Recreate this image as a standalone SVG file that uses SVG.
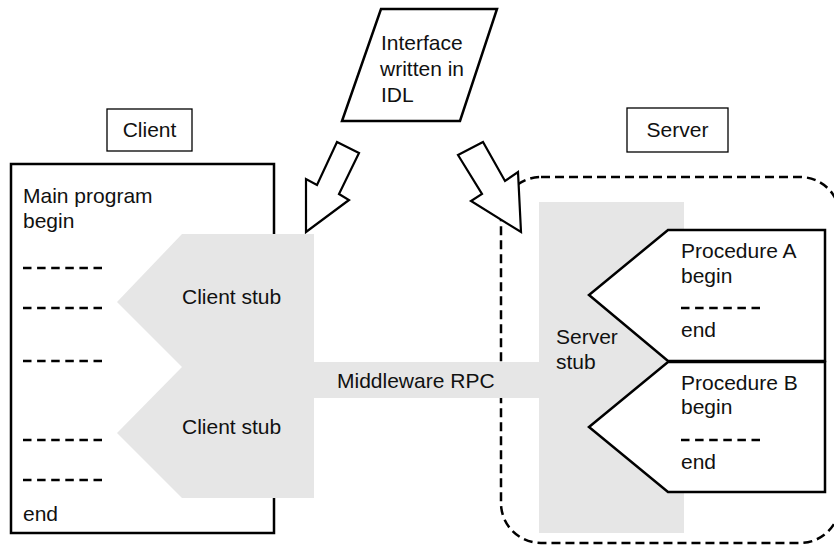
<svg xmlns="http://www.w3.org/2000/svg" width="834" height="547" viewBox="0 0 834 547">
  <style>
    text { font-family: "Liberation Sans", Arial, Helvetica, sans-serif; font-size: 21px; fill: #111; }
    .box { fill: #fff; stroke: #000; stroke-width: 2.5; }
    .label { fill: #fff; stroke: #000; stroke-width: 1.3; }
    .stub { fill: #e6e6e6; stroke: none; }
    .dots { stroke: #000; stroke-width: 2.6; stroke-dasharray: 8.5 5.6; fill: none; }
    .arrow { fill: #fff; stroke: #000; stroke-width: 2.2; stroke-linejoin: miter; }
  </style>
  <rect width="834" height="547" fill="#fff"/>

  <!-- Server boundary -->
  <g id="server-boundary">
    <rect x="501" y="177" width="339" height="366" rx="40" ry="40" fill="none" stroke="#000" stroke-width="2.5" stroke-dasharray="9 5"/>
  </g>

  <!-- Client main program -->
  <g id="main-program">
    <rect class="box" x="11" y="164" width="263" height="369"/>
    <text x="23" y="203">Main program</text>
    <text x="23" y="228">begin</text>
    <line class="dots" x1="23" y1="268" x2="102" y2="268"/>
    <line class="dots" x1="23" y1="308" x2="102" y2="308"/>
    <line class="dots" x1="23" y1="361" x2="102" y2="361"/>
    <line class="dots" x1="23" y1="440" x2="102" y2="440"/>
    <line class="dots" x1="23" y1="480" x2="102" y2="480"/>
    <text x="23" y="521">end</text>
  </g>

  <!-- Middleware band -->
  <g id="middleware">
    <rect class="stub" x="300" y="362" width="240" height="36"/>
    <text x="337" y="388">Middleware RPC</text>
  </g>

  <!-- Client stubs -->
  <g id="client-stub-1">
    <polygon class="stub" points="182,234 314,234 314,367 182,367 117,302"/>
    <text x="182" y="304">Client stub</text>
  </g>
  <g id="client-stub-2">
    <polygon class="stub" points="182,367 314,367 314,498 182,498 117,433"/>
    <text x="182" y="434">Client stub</text>
  </g>

  <!-- Server stub -->
  <g id="server-stub">
    <rect class="stub" x="539" y="202" width="145" height="331"/>
    <text x="556" y="344">Server</text>
    <text x="556" y="369">stub</text>
  </g>

  <!-- Procedures -->
  <g id="procedure-a">
    <polygon class="box" points="668,230 825,230 825,361 668,361 589,295"/>
    <text x="681" y="258">Procedure A</text>
    <text x="681" y="283">begin</text>
    <line class="dots" x1="681" y1="308" x2="761" y2="308"/>
    <text x="681" y="337">end</text>
  </g>
  <g id="procedure-b">
    <polygon class="box" points="668,362 825,362 825,492 668,492 589,427"/>
    <text x="681" y="390">Procedure B</text>
    <text x="681" y="414">begin</text>
    <line class="dots" x1="681" y1="440" x2="761" y2="440"/>
    <text x="681" y="469">end</text>
  </g>

  <!-- Labels -->
  <g id="client-label">
    <rect class="label" x="107" y="109" width="85" height="42"/>
    <text x="149.5" y="137" text-anchor="middle">Client</text>
  </g>
  <g id="server-label">
    <rect class="label" x="627" y="108" width="101" height="44"/>
    <text x="677.5" y="137" text-anchor="middle">Server</text>
  </g>

  <!-- IDL interface -->
  <g id="idl">
    <polygon class="box" stroke-width="2" points="381,9 497,9 460,121 342,121"/>
    <text x="381" y="50">Interface</text>
    <text x="380" y="76">written in</text>
    <text x="381" y="102">IDL</text>
  </g>

  <!-- Connectors: block arrows from the IDL definition to the stubs -->
  <g id="connectors">
    <polygon class="arrow" points="337,142 359,153 339,194 349,200 306,232 306,179 317,185"/>
    <polygon class="arrow" points="458,155 483,142 505,181 518,172 521,232 471,201 482,194"/>
  </g>
</svg>
